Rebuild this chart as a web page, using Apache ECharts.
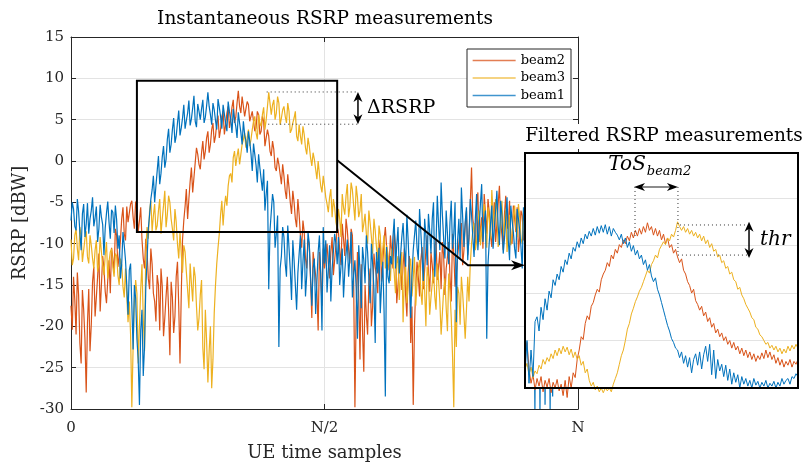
<!DOCTYPE html>
<html>
<head>
<meta charset="utf-8">
<script src="https://cdn.jsdelivr.net/npm/echarts@6/dist/echarts.min.js"></script>
<style>html,body{margin:0;padding:0;background:#fff}#c{width:806px;height:464px}</style>
</head>
<body>
<div id="c"></div>
<script>
// ---------- data ----------
const N = 1000;                 // number of UE time samples (x axis end)
const sampleStep = 5;           // spacing of the "A" samples; "B" samples sit half-way between
const xTickLabels = ['0', 'N/2', 'N'];
const seriesNames = ['beam2', 'beam3', 'beam1'];

// Instantaneous RSRP [dBW] — samples at x = 0, 5, 10, ...
const beam1 = [
-7.2,-5.8,-8.4,-6.1,-10.8,-5.2,-7.6,-8.8,-6.0,-7.9,-5.5,-8.2,-6.8,-11.4,-6.3,-7.4,-5.9,-8.7,-7.1,
-9.0,-12.5,-10.2,-15.0,-13.2,-17.5,-15.0,-21.5,-29.5,-18.0,-22.5,-12.0,-6.5,
-3.5,-5.0,-1.2,-2.8,0.5,-0.8,2.6,1.0,3.8,2.2,4.6,3.1,5.2,3.9,5.8,4.3,6.4,4.8,6.9,5.0,7.4,5.3,8.3,5.6,7.0,4.9,7.5,5.4,6.8,4.6,7.2,5.1,6.3,4.2,5.9,3.5,
4.8,2.4,3.6,0.9,2.1,-0.5,0.8,-2.2,-1.0,-4.0,-15.5,-6.2,-5.0,-8.8,-22.5,-11.5,-9.2,-14.0,-10.5,-16.8,-12.0,-18.0,-11.2,-15.5,-9.5,-13.8,-10.0,-17.5,-11.8,-14.6,-9.0,-20.5,-12.4,
-15.9,-10.2,-13.0,-8.8,-12.5,-15.0,-10.6,-13.4,-9.5,-11.8,-16.5,-12.0,-21.5,-13.2,-10.4,-14.8,-11.0,-17.2,-12.5,-22.0,
-13.6,-18.4,-12.2,-28.5,-14.0,-11.5,-9.2,-13.0,-8.0,-11.4,-7.5,-12.8,-9.6,-19.0,-10.8,-7.2,-12.0,-8.6,-14.5,-9.0,
-6.4,-11.2,-5.0,-10.0,-7.8,-2.6,-9.4,-6.0,-12.5,-4.8,-8.8,-19.5,-7.0,-3.2,-10.4,-5.6,-9.0,-6.5,-11.6,-4.0,
-8.2,-2.8,-7.4,-21.5,-9.8,-5.4,-8.0,-3.6,-10.2,-6.6,-9.4,-4.4,-12.0,-7.2,-10.6,-5.8,-8.4,-13.0,-7.6,-10.0,
-8.5,-11.2,-30.0,-9.9,-30.0,-7.3,-29.5,-8.1,-30.0,-28.5,-6.5,-11.0,-8.8,-10.3,-7.0,-12.2,-9.4,-8.0,-11.5,-9.6
];
// samples at x = 2.5, 7.5, 12.5, ...
const beam1B = [
-5.0,-7.9,-4.6,-8.6,-6.4,-9.2,-5.1,-7.0,-4.4,-6.9,-9.8,-5.3,-7.7,-8.1,-4.9,-9.4,-6.2,-5.4,
-10.6,
-14.2,-8.6,-12.0,-18.6,-12.4,-22.8,-16.6,-24.0,-20.5,-26.0,-15.4,-8.2,-4.6,
-1.8,-3.0,0.6,-1.5,1.8,0.2,3.9,2.0,5.2,3.0,6.1,4.0,6.8,4.9,7.3,5.1,7.9,4.1,6.0,6.3,4.6,6.7,6.6,4.4,6.2,3.8,6.5,3.9,5.7,3.6,6.0,3.4,5.0,2.8,4.6,2.0,
3.2,1.0,2.4,-1.2,0.8,-2.6,-0.8,-3.6,-6.0,-2.4,-8.4,-4.0,-10.5,-6.6,-13.0,-8.0,-12.4,-7.8,-13.2,-9.6,-15.0,-13.5,-9.0,-12.2,-16.4,-8.6,-14.0,-13.0,-18.5,-11.0,-13.6,-8.0,
-9.6,-13.2,-17.0,-11.0,-10.0,-9.2,-12.8,-16.5,-11.2,-14.0,-8.6,-13.8,-15.4,-10.2,-17.8,-12.0,-9.0,-14.2,-10.0,-15.5,
-11.0,-10.5,-15.0,-18.2,-10.4,-14.8,-12.5,-7.0,-10.2,-13.6,-9.2,-10.6,-6.5,-13.4,-14.0,-9.0,-10.5,-5.8,-11.5,-7.0,
-12.6,-8.5,-7.0,-14.0,-4.2,-10.8,-6.5,-11.8,-8.8,-7.4,-10.6,-5.0,-9.6,-11.8,-6.8,-7.4,-12.0,-4.6,-9.2,-7.0,
-10.8,-5.2,-9.8,-6.0,-12.4,-7.6,-10.6,-6.0,-7.8,-4.8,-11.2,-7.0,-9.6,-5.4,-8.6,-11.8,-7.0,-10.4,-5.6,-9.0,
-7.0,-9.6,-12.0,-8.4,-11.0,-9.2,-7.6,-12.6,-10.0,-8.2,-9.8,-7.2,-11.6,-8.6,-10.4,-9.0,-7.8,-12.0,-8.8,-10.2
];
const beam2 = [
-17.5,-14.0,-21.0,-16.2,-24.5,-18.0,-28.0,
-15.5,-19.8,-12.8,-16.5,-11.2,-15.0,-13.0,-17.2,-12.0,
-10.5,-13.5,-9.0,-11.5,
-7.0,-8.8,-5.5,-7.6,-4.8,-8.2,-6.0,-7.2,
-9.5,-13.0,-11.0,-15.5,-12.5,
-17.0,-13.8,-20.5,-15.2,-19.0,-14.0,-23.5,-16.5,-18.8,-12.2,-24.5,
-9.5,-5.5,-7.0,-2.5,-3.8,-0.2,0.8,-1.0,2.4,1.2,3.6,2.0,4.6,3.0,5.5,3.8,6.0,4.4,6.6,5.0,7.4,5.3,8.5,5.8,
7.6,5.2,6.8,4.6,6.2,4.0,5.6,3.6,4.8,2.0,3.0,0.6,1.4,-1.2,-0.4,-2.8,-1.8,-4.6,-3.2,-6.4,-5.0,-8.0,-6.5,-10.5,-8.6,-13.0,-10.2,-19.0,-12.5,-15.8,-11.0,-17.5,-13.0,
-10.0,-14.2,-9.2,-12.0,-8.0,-10.8,-7.6,-11.5,-8.4,-12.4,-9.0,-29.8,-11.0,-24.0,-20.5,-15.0,-21.0,-13.0,-17.5,-12.8,
-16.0,-9.5,-12.2,-8.0,-11.8,-9.0,-13.0,-10.2,-15.0,-11.5,-12.6,-16.2,-13.5,-22.0,-29.5,-15.0,-14.0,-12.0,-15.5,-10.8,
-13.6,-11.0,-14.8,-9.6,-12.8,-15.5,-11.4,-13.0,-9.8,-17.0,-11.2,-13.6,-10.0,-7.5,-10.8,-6.0,-9.4,-0.8,-8.2,-5.5,
-9.8,-6.8,-4.0,-8.8,-6.2,-10.4,-5.0,-7.6,-3.0,-9.0,-6.4,-8.2,-4.8,-10.0,-7.0,-5.6,-9.2,-6.6,-8.0,-10.6,
-7.5,-9.2,-6.0,-11.0,-8.4,-5.8,-9.6,-7.2,-10.4,-6.8,-8.8,-11.5,-7.4,-9.0,-6.2,-10.0,-8.2,-7.8,-9.8,-8.6
];
const beam2B = [
-20.4,-16.8,-13.5,-22.0,-15.6,-21.5,-19.6,-23.0,-14.6,-18.8,-14.0,-18.2,-11.5,-15.8,-14.4,-16.0,-11.8,-8.2,-12.8,-9.6,
-5.6,-9.6,-7.4,-5.2,-6.8,-4.9,-8.6,-5.6,-11.8,-9.4,-14.2,-10.6,-16.0,-19.4,-15.0,-13.0,-21.2,-16.4,-18.0,-14.6,-20.8,-14.0,-17.6,-16.0,
-7.2,-3.4,-4.6,-0.8,-2.0,1.6,-0.4,1.0,0.2,2.8,1.0,3.8,2.2,4.6,2.8,5.4,3.2,5.8,4.0,6.5,4.6,7.0,6.6,7.8,
5.4,7.2,4.8,6.0,3.6,6.0,3.2,5.4,1.8,3.8,1.2,2.4,-0.8,0.4,-1.6,-0.4,-3.6,-1.6,-5.0,-3.6,-7.0,-4.6,-9.0,-7.2,-11.8,-9.4,-14.5,-11.0,-13.8,-20.5,-13.6,-10.6,
-11.6,-12.4,-11.0,-13.8,-10.2,-8.6,-12.6,-9.4,-7.0,-10.6,-8.2,-14.5,-18.0,-16.2,-12.5,-25.5,-18.6,-14.8,-20.0,-11.2,
-14.0,-10.8,-14.6,-9.6,-10.4,-13.2,-11.0,-8.4,-17.2,-12.8,-15.6,-10.6,-18.8,-11.5,-17.6,-20.0,-12.2,-16.4,-10.4,-13.2,
-9.0,-15.8,-12.6,-10.2,-14.4,-11.0,-9.8,-16.2,-11.6,-14.0,-8.8,-15.2,-11.6,-8.4,-12.6,-7.8,-11.4,-5.2,-7.0,-10.6,
-3.8,-8.2,-10.6,-6.4,-4.6,-9.0,-7.0,-9.8,-5.2,-7.4,-10.8,-4.2,-7.6,-9.6,-5.4,-8.6,-11.0,-6.0,-9.6,-6.8,
-9.0,-6.6,-10.2,-7.4,-9.8,-11.6,-7.0,-8.6,-6.2,-10.0,-7.8,-9.4,-8.0,-11.0,-7.6,-9.2,-6.8,-10.4,-8.4,-7.2
];
const beam3 = [
-9.5,-11.8,-8.2,-12.0,-9.0,-10.8,-8.5,-12.4,
-10.2,-13.0,-9.6,-12.5,-11.0,-13.8,-9.8,-12.2,-10.6,-14.0,
-11.5,-15.0,-12.6,-16.5,-13.2,-17.0,
-29.8,
-17.0,-16.0,-20.0,-12.5,-23.0,-8.0,
-6.0,-8.5,-5.2,-7.8,-4.6,-7.0,-3.6,-6.5,-5.0,-8.2,-5.8,-10.0,-8.6,-13.5,-11.0,-15.6,-12.4,-17.0,-14.0,-20.5,-16.2,-22.6,-18.0,-26.8,-20.0,-24.0,-15.0,
-10.5,-6.5,-7.8,-4.2,-3.0,-1.5,0.4,-0.6,1.5,0.8,2.6,1.6,3.8,2.6,4.8,3.4,5.6,4.2,6.5,5.0,8.3,5.6,7.4,5.8,7.0,5.2,6.6,4.6,6.0,3.8,5.2,3.0,4.4,2.0,3.2,0.8,1.8,-0.6,0.2,-2.2,-1.6,-3.8,-3.0,
-5.2,-4.4,-6.8,-5.6,-8.2,-7.0,-4.0,-6.5,-2.8,-5.5,-3.5,-7.2,-4.4,-6.0,-8.6,-6.4,-10.0,-7.5,-11.2,-8.4,
-12.0,-9.0,-10.6,-13.0,-11.2,-14.5,-12.0,-16.0,-11.5,-13.8,-19.5,-12.6,-15.0,-11.8,-14.2,-17.5,-13.0,-15.8,-12.4,-20.0,
-14.0,-16.5,-13.2,-18.0,-14.5,-21.0,-15.6,-17.8,-13.6,-19.0,-29.8,-22.5,-16.0,-14.0,-18.6,-18.0,-17.0,-10.0,-7.5,-9.8,
-6.0,-8.6,-5.2,-10.5,-7.0,-3.5,-8.0,-6.0,-9.6,-4.8,-7.6,-11.0,-6.5,-8.8,-5.4,-9.2,-6.8,-10.0,-7.2,-9.0,
-11.2,-7.8,-9.5,-6.4,-10.6,-8.0,-12.0,-7.0,-9.2,-11.0,-8.5,-6.8,-10.2,-9.0,-7.6,-11.4,-8.3,-9.7,-7.2,-10.0
];
const beam3B = [
-12.6,-9.0,-10.6,-8.0,-12.2,-9.4,-11.6,-9.0,-11.8,-10.8,-13.4,-9.2,-12.6,-11.4,-14.2,-11.0,-12.8,-11.2,-13.8,-11.8,
-15.2,-13.0,-19.5,-21.0,-22.5,-14.4,-24.5,-15.5,-19.0,-11.0,
-9.4,-4.8,-6.6,-8.4,-6.0,-8.8,-5.4,-8.0,-4.2,-7.0,-9.6,-7.4,-11.8,-11.2,-10.2,-13.4,-17.8,-14.8,-12.8,-17.6,-19.0,-14.4,-25.2,-21.8,-23.0,-27.5,-18.4,-12.4,
-8.8,-4.8,-5.6,-5.4,-1.8,-2.6,1.2,0.6,-0.4,2.0,3.4,2.8,1.8,3.8,5.4,2.6,4.6,5.6,3.8,6.6,7.0,6.8,5.0,7.8,4.4,6.2,5.4,7.0,3.4,4.6,6.0,2.4,3.0,4.2,1.6,2.8,0.4,1.0,-1.0,0.0,-3.0,-1.8,
-4.4,-6.2,-3.4,-4.6,-7.4,-5.8,-9.2,-5.6,-4.2,-6.8,-2.6,-5.4,-3.0,-6.8,-4.0,-7.6,-8.8,-6.0,-9.2,-7.0,
-10.4,-7.8,-12.6,-9.0,-10.2,-12.8,-10.6,-13.6,-12.4,-16.8,-11.0,-14.2,-17.2,-12.8,-16.4,-11.6,-14.8,-12.0,-17.4,-15.6,
-12.8,-18.6,-14.8,-16.4,-12.4,-17.0,-18.4,-14.2,-20.6,-15.8,-23.5,-18.0,-15.2,-19.8,-16.0,-21.5,-14.0,-12.5,-8.4,-10.8,
-7.4,-10.2,-6.4,-8.2,-5.6,-9.4,-6.2,-4.6,-10.4,-7.2,-9.0,-5.8,-8.4,-10.2,-6.6,-8.0,-5.2,-9.4,-6.0,-8.6,
-7.2,-10.4,-8.8,-7.0,-11.0,-9.4,-6.6,-9.8,-12.0,-7.4,-10.0,-8.6,-11.4,-7.6,-9.6,-8.2,-10.8,-7.0,-9.2,-8.4
];

// Filtered RSRP (inset), one value per inset sample
const insetBeam1 = [
-28.5,-25.0,-29.5,-26.0,-28.8,-23.0,
-22.5,-24.0,-21.5,-22.8,-20.6,-21.8,-19.8,-20.5,-18.6,-19.2,-18.0,-18.6,-17.2,-17.8,-16.5,-17.0,-15.8,-16.4,-15.2,-15.6,
-14.6,-15.2,-14.2,-14.8,-13.8,-14.3,-13.5,-14.0,-13.2,-13.9,-13.0,-13.7,-12.9,-13.6,-12.8,-13.8,-13.0,-14.0,-13.2,-13.6,
-13.9,-14.4,-13.8,-14.8,-14.2,-15.2,-14.6,-15.6,-15.0,-16.0,
-15.5,-16.4,-16.0,-17.0,-16.5,-17.6,-17.0,-18.2,-18.8,-18.4,
-19.6,-20.2,-21.0,-21.8,-22.6,-23.4,-24.0,-24.8,-25.2,-25.8,
-26.0,-26.8,-26.2,-27.4,-26.6,-27.8,-26.8,-28.4,-27.0,-26.4,
-27.6,-26.2,-28.0,-26.5,-25.6,-27.2,-25.4,-28.6,-26.0,-29.0,
-27.0,-28.2,-27.5,-28.8,-27.6,-29.2,-28.0,-29.6,-28.4,-29.4,
-28.6,-30.0,-28.8,-29.6,-29.0,-29.8,-29.2,-30.0,-29.0,-29.7,
-29.3,-30.0,-29.4,-29.8,-29.2,-30.0,-29.5,-29.8,-29.3,-30.0,
-29.4,-29.8,-29.0,-29.6,-29.2,-29.0,-29.6,-28.8,-29.0,-28.5,
-28.8
];
const insetBeam2 = [
-26.5,-25.2,-28.0,-29.5,-28.6,-30.2,-29.0,-29.8,-28.8,-30.4,-29.2,-29.9,-29.0,-30.5,-29.4,-30.0,-29.1,-30.3,-29.6,-30.8,-29.2,-31.0,-28.8,-30.0,
-28.4,-28.9,-27.0,-26.0,-24.6,-24.9,-23.2,-22.4,-22.8,-21.4,
-21.0,-20.2,-19.6,-19.9,-18.6,-18.0,-17.6,-16.8,-17.2,-16.0,
-16.4,-15.4,-15.8,-14.9,-15.2,-14.4,-14.8,-14.0,-14.5,-13.6,
-14.2,-13.4,-14.0,-13.2,-13.8,-13.0,-13.6,-12.6,-13.4,-13.0,
-13.9,-13.2,-14.0,-13.4,-14.4,-13.8,-14.8,-14.2,-15.2,-14.9,
-15.8,-15.4,-16.2,-16.8,-16.4,-17.6,-18.0,-18.8,-19.2,-20.0,
-19.6,-20.8,-21.2,-21.8,-21.4,-22.4,-22.0,-23.0,-22.6,-23.6,
-23.2,-24.2,-23.8,-24.6,-24.2,-25.0,-24.6,-25.4,-25.0,-25.8,
-25.2,-26.0,-25.6,-26.4,-25.8,-26.6,-26.0,-26.8,-26.2,-27.0,
-26.4,-27.2,-26.6,-27.0,-26.3,-26.9,-26.0,-26.8,-26.2,-27.0,
-26.5,-27.4,-26.8,-27.6,-27.0,-27.8,-27.2,-27.6,-27.0,-27.8,
-27.2,-27.5,-27.0
];
const insetBeam3 = [
-28.0,-27.4,-28.6,-27.8,-28.9,-28.2,-28.5,-27.6,-28.0,-27.0,
-27.5,-26.8,-27.2,-26.4,-26.9,-26.0,-26.6,-25.8,-26.4,-25.6,
-26.2,-25.7,-26.5,-25.9,-26.8,-26.2,-27.0,-26.6,-27.6,-27.2,
-28.4,-28.0,-29.2,-29.8,-29.4,-30.2,-29.8,-30.4,-30.0,-30.5,
-30.0,-30.3,-30.0,-30.4,-29.6,-29.0,-28.4,-27.5,-26.6,-26.0,
-25.0,-23.8,-23.2,-22.2,-21.6,-20.9,-20.4,-19.8,-19.4,-18.8,
-18.2,-17.6,-17.9,-17.0,-16.6,-16.0,-16.3,-15.4,-15.0,-14.6,
-14.9,-14.2,-14.5,-13.8,-14.1,-13.4,-12.5,-13.0,-13.4,-13.0,
-13.6,-13.2,-13.8,-13.4,-14.0,-13.6,-14.2,-13.8,-14.5,-14.0,
-14.8,-14.4,-15.2,-14.8,-15.6,-15.4,-16.2,-16.0,-16.8,-16.6,
-17.4,-17.2,-18.0,-17.8,-18.6,-18.8,-19.6,-19.4,-20.2,-20.6,
-21.2,-21.6,-22.0,-22.6,-22.8,-23.6,-23.8,-24.4,-24.6,-25.0,
-25.4,-25.2,-25.8,-25.5,-26.0,-25.6,-26.2,-25.8,-26.4,-25.9,
-26.3,-25.6,-26.1,-25.5,-25.9,-25.4,-25.8
];
const insetSamples = 136;

// ---------- styling ----------
const colors = { beam1: '#0072BD', beam2: '#D95319', beam3: '#EDB120' };
const FONT = 'DejaVu Serif';
const axisColor = '#262626';
const gridColor = '#e3e3e3';

const mainA = { beam1: beam1, beam2: beam2, beam3: beam3 };
const mainB = { beam1: beam1B, beam2: beam2B, beam3: beam3B };
const insetData = { beam1: insetBeam1, beam2: insetBeam2, beam3: insetBeam3 };
function toMain(a, b) {
  const out = [];
  a.forEach((v, i) => {
    out.push([i * sampleStep, v]);
    if (i < b.length) out.push([i * sampleStep + sampleStep / 2, b[i]]);
  });
  return out;
}
const toInset = arr => arr.map((v, i) => [i, v]);

const chart = echarts.init(document.getElementById('c'), null, { renderer: 'canvas' });

const boxAxis = (extra) => Object.assign({
  axisLine: { show: true, onZero: false, lineStyle: { color: axisColor, width: 1 } },
  axisTick: { show: true, inside: true, length: 5, lineStyle: { color: axisColor } },
  axisLabel: { show: false },
  splitLine: { show: false }
}, extra);

const series = [];
seriesNames.forEach(n => {
  series.push({
    name: n, type: 'line', xAxisIndex: 0, yAxisIndex: 0,
    data: toMain(mainA[n], mainB[n]), symbol: 'none', silent: true, z: 2,
    lineStyle: { width: 1.2, color: colors[n] }, itemStyle: { color: colors[n] }
  });
});
seriesNames.forEach(n => {
  series.push({
    name: n, type: 'line', xAxisIndex: 2, yAxisIndex: 2,
    data: toInset(insetData[n]), symbol: 'none', silent: true, z: 7, clip: false,
    lineStyle: { width: 1, color: colors[n] }, itemStyle: { color: colors[n] }
  });
});

const option = {
  animation: false,
  backgroundColor: '#ffffff',
  title: [
    { text: 'Instantaneous RSRP measurements', left: 325, top: 10, textAlign: 'center', padding: 0,
      textStyle: { fontFamily: FONT, fontSize: 18.5, fontWeight: 'normal', color: '#000' } },
    { text: 'Filtered RSRP measurements', left: 661, top: 124, textAlign: 'center', padding: [3, 3, 3, 3],
      backgroundColor: '#ffffff',
      textStyle: { fontFamily: FONT, fontSize: 18.5, fontWeight: 'normal', color: '#000' } }
  ],
  legend: {
    data: seriesNames, orient: 'vertical', left: 467, top: 49,
    itemWidth: 43, itemHeight: 14, itemGap: 4.5,
    padding: [5, 6, 5, 5], borderColor: axisColor, borderWidth: 1, borderRadius: 0,
    backgroundColor: '#ffffff', selectedMode: false,
    itemStyle: { opacity: 0 },
    lineStyle: { width: 1.3, opacity: 0.75 },
    textStyle: { fontFamily: FONT, fontSize: 13, color: '#000' }
  },
  grid: [
    { left: 71, top: 37, width: 507, height: 372, outerBoundsMode: 'none', containLabel: false },
    { left: 525, top: 153, width: 273, height: 235, outerBoundsMode: 'none', containLabel: false }
  ],
  xAxis: [
    { gridIndex: 0, type: 'value', min: 0, max: N, interval: N / 2,
      axisLine: { show: true, onZero: false, lineStyle: { color: axisColor, width: 1 } },
      axisTick: { show: true, inside: true, length: 5, lineStyle: { color: axisColor } },
      axisLabel: { show: true, margin: 12, color: axisColor, fontFamily: FONT, fontSize: 15,
        showMinLabel: true, showMaxLabel: true,
        formatter: v => xTickLabels[Math.round(v / (N / 2))] },
      splitLine: { show: true, lineStyle: { color: gridColor, width: 1 } },
      name: 'UE time samples', nameLocation: 'middle', nameGap: 35,
      nameTextStyle: { fontFamily: FONT, fontSize: 18, color: axisColor } },
    boxAxis({ gridIndex: 0, type: 'value', position: 'top', min: 0, max: N, interval: N / 2 }),
    { gridIndex: 1, type: 'value', min: 0, max: insetSamples, show: false, axisLine: { onZero: false } }
  ],
  yAxis: [
    { gridIndex: 0, type: 'value', min: -30, max: 15, interval: 5,
      axisLine: { show: true, onZero: false, lineStyle: { color: axisColor, width: 1 } },
      axisTick: { show: true, inside: true, length: 5, lineStyle: { color: axisColor } },
      axisLabel: { show: true, margin: 7, color: axisColor, fontFamily: FONT, fontSize: 15,
        showMinLabel: true, showMaxLabel: true },
      splitLine: { show: true, lineStyle: { color: gridColor, width: 1 } },
      name: 'RSRP [dBW]', nameLocation: 'middle', nameGap: 38,
      nameTextStyle: { fontFamily: FONT, fontSize: 18, color: axisColor } },
    boxAxis({ gridIndex: 0, type: 'value', position: 'right', min: -30, max: 15, interval: 5 }),
    { gridIndex: 1, type: 'value', min: -30, max: -5.25, interval: 5, z: 6,
      axisLine: { show: false, onZero: false }, axisTick: { show: false }, axisLabel: { show: false },
      splitLine: { show: true, lineStyle: { color: gridColor, width: 1 } } }
  ],
  series: series
};
chart.setOption(option);

// ---------- annotations (positioned through the axes) ----------
const P = (g, pt) => chart.convertToPixel({ gridIndex: g }, pt);
function head(tip, from, len, hw, notch) {
  const dx = tip[0] - from[0], dy = tip[1] - from[1];
  const L = Math.hypot(dx, dy), ux = dx / L, uy = dy / L, nx = -uy, ny = ux;
  return { type: 'polygon', z: 40, shape: { points: [
    tip,
    [tip[0] - ux * len + nx * hw, tip[1] - uy * len + ny * hw],
    [tip[0] - ux * (len - notch), tip[1] - uy * (len - notch)],
    [tip[0] - ux * len - nx * hw, tip[1] - uy * len - ny * hw]
  ] }, style: { fill: '#000' } };
}
const line = (pts, style) => ({ type: 'polyline', z: 40, shape: { points: pts },
  style: Object.assign({ stroke: '#000', lineWidth: 2, fill: null }, style) });
const dotted = { stroke: '#333', lineWidth: 1, lineDash: [1, 3] };
const txt = (x, y, text, font, align) => ({ type: 'text', z: 40, x: x, y: y,
  style: { text: text, font: font, fill: '#000', align: align, textAlign: align,
           verticalAlign: 'middle', textVerticalAlign: 'middle' } });

const els = [];
// inset panel cover and frame
const iTL = P(1, [0, -5.25]), iBR = P(1, [insetSamples, -30]);
els.push({ type: 'rect', z: 5, shape: { x: iTL[0], y: iTL[1], width: iBR[0] - iTL[0], height: iBR[1] - iTL[1] },
  style: { fill: '#ffffff' } });
els.push({ type: 'rect', z: 40, shape: { x: iTL[0], y: iTL[1], width: iBR[0] - iTL[0], height: iBR[1] - iTL[1] },
  style: { fill: null, stroke: '#000', lineWidth: 2 } });

// zoom window in the main plot
const zA = P(0, [130, 9.7]), zB = P(0, [525, -8.6]);
els.push({ type: 'rect', z: 40, shape: { x: zA[0], y: zA[1], width: zB[0] - zA[0], height: zB[1] - zA[1] },
  style: { fill: null, stroke: '#000', lineWidth: 2 } });

// connector with arrow into the inset
const c1 = P(0, [525, 0.1]), c2 = P(0, [783, -12.6]);
const c3 = [iTL[0], c2[1]];
els.push(line([c1, c2, [c3[0] - 8, c3[1]]], {}));
els.push(head(c3, c2, 14, 5, 4));

// Delta RSRP marker
const dT1 = P(0, [386, 8.35]), dT2 = P(0, [566, 8.35]);
const dB1 = P(0, [389, 4.45]), dB2 = P(0, [566, 4.45]);
els.push(line([dT1, dT2], dotted));
els.push(line([dB1, dB2], dotted));
const dA1 = P(0, [566, 8.35]), dA2 = P(0, [566, 4.45]);
els.push(line([[dA1[0], dA1[1] + 6], [dA2[0], dA2[1] - 6]], { lineWidth: 1.5 }));
els.push(head(dA1, dA2, 10, 4.5, 3));
els.push(head(dA2, dA1, 10, 4.5, 3));
const dTx = P(0, [584, 6.4]);
els.push(txt(dTx[0], dTx[1], '\u0394RSRP', '19px "DejaVu Serif"', 'left'));

// ToS marker in the inset
const tA = P(1, [54.3, -8.83]), tB = P(1, [76.2, -8.83]);
els.push(line([[tA[0] + 6, tA[1]], [tB[0] - 6, tB[1]]], { stroke: '#666', lineWidth: 1.5 }));
els.push(head(tA, tB, 11, 4, 3));
els.push(head(tB, tA, 11, 4, 3));
els.push(line([P(1, [54.8, -8.83]), P(1, [54.8, -14.1])], dotted));
els.push(line([P(1, [76.2, -8.83]), P(1, [76.2, -16.0])], dotted));
const tTx = P(1, [60.2, -6.7]);
els.push(txt(tTx[0], tTx[1] - 2, 'ToS', 'italic 20px "DejaVu Serif"', 'right'));
els.push(txt(tTx[0] + 1, tTx[1] + 5, 'beam2', 'italic 13px "DejaVu Serif"', 'left'));

// thr marker in the inset
els.push(line([P(1, [77.2, -12.83]), P(1, [112.1, -12.83])], dotted));
els.push(line([P(1, [76.2, -16.0]), P(1, [112.1, -16.0])], dotted));
const hA = P(1, [111.6, -12.5]), hB = P(1, [111.6, -16.3]);
els.push(line([[hA[0], hA[1] + 6], [hB[0], hB[1] - 6]], { lineWidth: 1.5 }));
els.push(head(hA, hB, 10, 4.5, 3));
els.push(head(hB, hA, 10, 4.5, 3));
const hTx = P(1, [117.1, -14.4]);
els.push(txt(hTx[0], hTx[1], 'thr', 'italic 20px "DejaVu Serif"', 'left'));

chart.setOption({ graphic: { elements: els } });
</script>
</body>
</html>
